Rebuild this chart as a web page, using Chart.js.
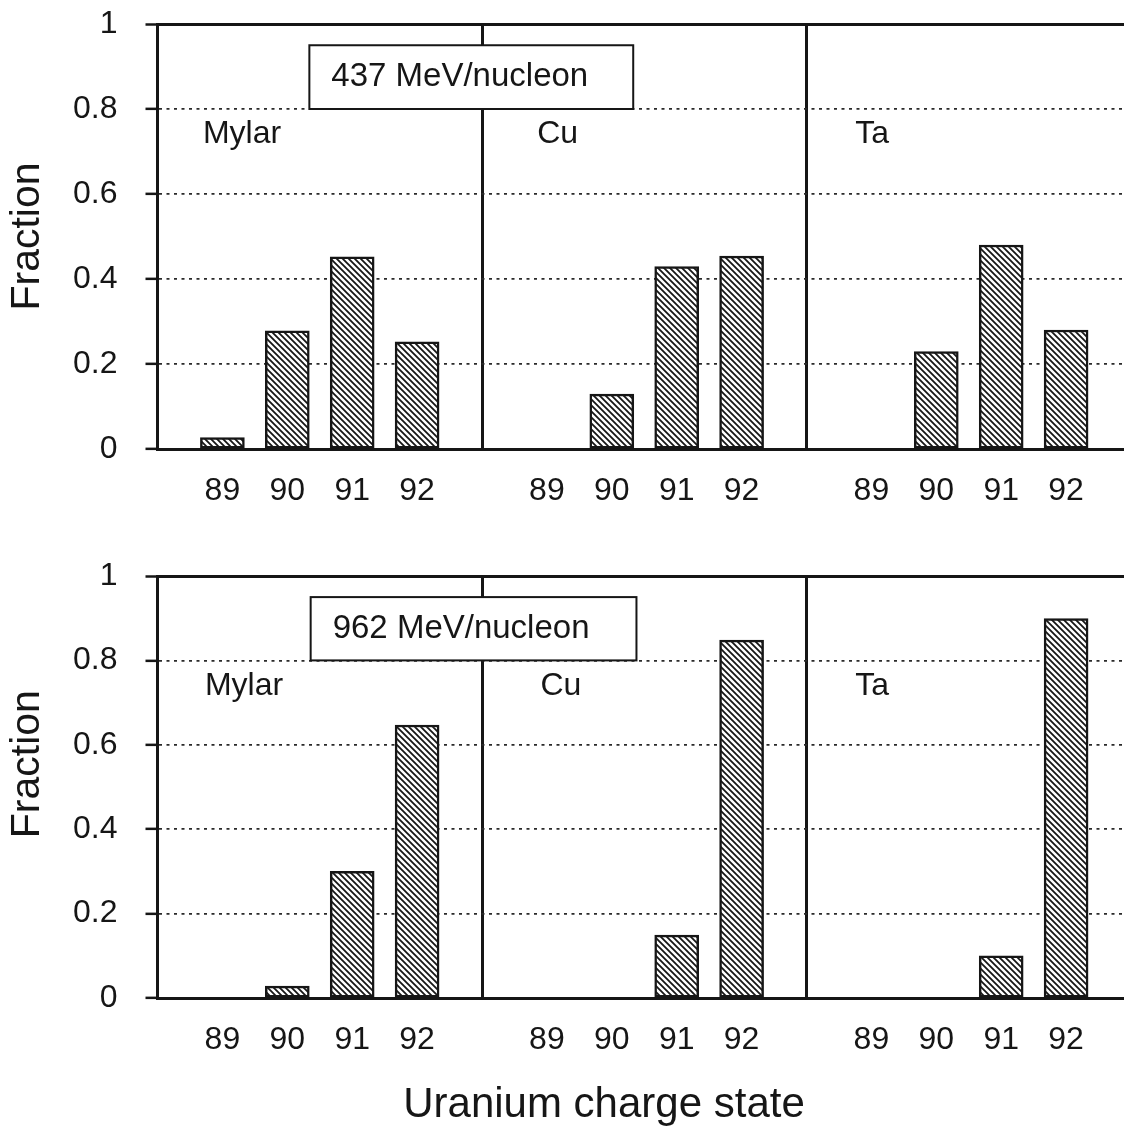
<!DOCTYPE html>
<html>
<head>
<meta charset="utf-8">
<script src="https://cdn.jsdelivr.net/npm/chart.js@4.4.0/dist/chart.umd.min.js"></script>
<style>
  html, body { margin: 0; padding: 0; background: #fff; overflow: hidden; width: 1124px; height: 1131px; position: relative; }
  .panel { position: absolute; left: 0; width: 1153px; }
  /* chart areas: top 24..449, bottom 576..998 (y padding above the area is 48px) */
  #topPanel { top: -24px; height: 554px; }
  #bottomPanel { top: 528px; height: 603px; }
</style>
</head>
<body>
<div class="panel" id="topPanel"><canvas id="chartTop"></canvas></div>
<div class="panel" id="bottomPanel"><canvas id="chartBottom"></canvas></div>
<script>
// Charge states, with blank slots separating the three targets
const chargeStates = ['', '89', '90', '91', '92', '', '89', '90', '91', '92', '', '89', '90', '91', '92', ''];
const targets = ['Mylar', 'Cu', 'Ta'];
const energies = ['437 MeV/nucleon', '962 MeV/nucleon'];
const yTicks = [0, 0.2, 0.4, 0.6, 0.8, 1];

// Fractions for charge states 89..92 (null = no bar)
const mylar437 = [0.027, 0.278, 0.452, 0.252];
const cu437 = [null, 0.129, 0.429, 0.454];
const ta437 = [null, 0.229, 0.48, 0.28];
const mylar962 = [null, 0.028, 0.30, 0.647];
const cu962 = [null, null, 0.149, 0.848];
const ta962 = [null, null, 0.10, 0.899];

const INK = '#161616';
const FONT = '"Liberation Sans", Arial, Helvetica, sans-serif';
Chart.defaults.font.family = FONT;
Chart.defaults.color = INK;

// Diagonal hatch fill for the bars
function makeHatch() {
    const s = 6;
    const c = document.createElement('canvas');
    c.width = s;
    c.height = s;
    const g = c.getContext('2d');
    g.fillStyle = '#fff';
    g.fillRect(0, 0, s, s);
    g.strokeStyle = INK;
    g.lineWidth = 1.8;
    g.beginPath();
    g.moveTo(0, 0); g.lineTo(s, s);
    g.moveTo(-2, s - 2); g.lineTo(2, s + 2);
    g.moveTo(s - 2, -2); g.lineTo(s + 2, 2);
    g.stroke();
    return g.createPattern(c, 'repeat');
}
const hatch = makeHatch();

function buildSeries(a, b, c) {
    return [null, ...a, null, ...b, null, ...c, null];
}

// Text drawn on each panel: axis titles, target names and energy box
const panelText = {
    id: 'panelText',
    afterDraw(chart, args, opts) {
        const { ctx, scales: { x, y } } = chart;
        ctx.save();
        ctx.fillStyle = INK;

        // y title
        ctx.save();
        ctx.font = '41px ' + FONT;
        ctx.textAlign = 'center';
        ctx.textBaseline = 'middle';
        ctx.translate(28, y.getPixelForValue(opts.titleAt));
        ctx.rotate(-Math.PI / 2);
        ctx.fillText('Fraction', 0, 0);
        ctx.restore();

        // x title (bottom panel only)
        if (opts.xTitle) {
            ctx.font = '42px ' + FONT;
            ctx.textAlign = 'center';
            ctx.textBaseline = 'alphabetic';
            ctx.fillText(opts.xTitle, 604, x.bottom - 14);
        }

        // target names
        ctx.font = '32px ' + FONT;
        ctx.textAlign = 'left';
        ctx.textBaseline = 'middle';
        targets.forEach((name, i) => {
            ctx.fillText(name, x.getPixelForValue(opts.nameSlots[i]), y.getPixelForValue(0.74));
        });

        // energy box
        const bx0 = x.getPixelForValue(opts.box[0]);
        const bx1 = x.getPixelForValue(opts.box[1]);
        const by0 = y.getPixelForValue(0.95);
        const by1 = y.getPixelForValue(0.8);
        ctx.fillStyle = '#fff';
        ctx.fillRect(bx0, by0, bx1 - bx0, by1 - by0);
        ctx.strokeStyle = INK;
        ctx.lineWidth = 2;
        ctx.strokeRect(bx0, by0, bx1 - bx0, by1 - by0);
        ctx.fillStyle = INK;
        ctx.font = '33px ' + FONT;
        ctx.fillText(opts.energy, bx0 + 22, (by0 + by1) / 2);
        ctx.restore();
    }
};

function makeChart(canvasId, series, cfg) {
    return new Chart(document.getElementById(canvasId), {
        type: 'bar',
        data: {
            labels: chargeStates,
            datasets: [{
                data: series,
                backgroundColor: hatch,
                borderColor: INK,
                borderWidth: 2.5,
                borderSkipped: false,
                barThickness: 44
            }]
        },
        plugins: [panelText],
        options: {
            responsive: true,
            maintainAspectRatio: false,
            animation: false,
            layout: { padding: 0 },
            plugins: {
                legend: { display: false },
                tooltip: { enabled: false },
                panelText: cfg.text
            },
            scales: {
                x: {
                    offset: false,
                    grid: {
                        offset: false,
                        drawTicks: false,
                        color: ctx => chargeStates[ctx.index] === '' ? INK : 'rgba(0,0,0,0)',
                        lineWidth: 3
                    },
                    border: { color: INK, width: 3 },
                    ticks: {
                        autoSkip: false,
                        maxRotation: 0,
                        padding: 22,
                        font: { size: 32, lineHeight: 1.25 },
                        color: INK
                    },
                    afterFit: s => { s.height = cfg.xHeight; }
                },
                y: {
                    min: 0,
                    max: 1,
                    afterBuildTicks: s => { s.ticks = yTicks.map(v => ({ value: v })); },
                    ticks: {
                        padding: 28,
                        font: { size: 32, lineHeight: 1.25 },
                        color: INK,
                        callback: v => String(v)
                    },
                    grid: {
                        color: ctx => (ctx.tick && ctx.tick.value === 1) ? INK : '#2a2a2a',
                        lineWidth: ctx => (ctx.tick && ctx.tick.value === 1) ? 3 : 1.7,
                        tickColor: INK,
                        tickWidth: 2.5,
                        tickLength: 12
                    },
                    border: {
                        color: INK,
                        width: 3,
                        dash: ctx => (ctx.tick && ctx.tick.value === 1) ? [] : [3, 4.5]
                    },
                    afterFit: s => { s.width = 157.5; }
                }
            }
        }
    });
}

makeChart('chartTop', buildSeries(mylar437, cu437, ta437), {
    xHeight: 81,
    text: { titleAt: 0.5, nameSlots: [0.7, 5.85, 10.75], box: [2.34, 7.33], energy: energies[0] }
});

makeChart('chartBottom', buildSeries(mylar962, cu962, ta962), {
    xHeight: 133,
    text: { titleAt: 0.554, nameSlots: [0.73, 5.9, 10.75], box: [2.36, 7.38], energy: energies[1], xTitle: 'Uranium charge state' }
});
</script>
</body>
</html>
